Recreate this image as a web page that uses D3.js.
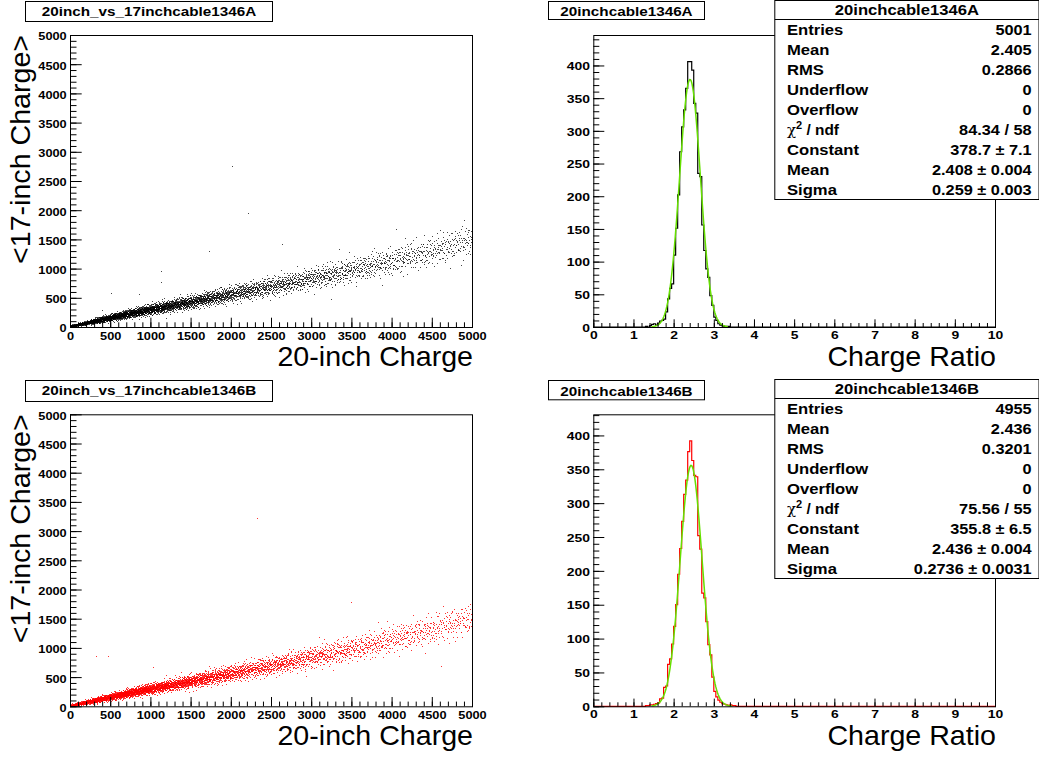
<!DOCTYPE html>
<html><head><meta charset="utf-8">
<script src="https://cdn.jsdelivr.net/npm/d3@7"></script>
<style>
body{margin:0;background:#fff}
svg{display:block}
text{font-family:"Liberation Sans",Arial,Helvetica,sans-serif}
</style>
</head><body>
<svg id="c" width="1039" height="757"></svg>
<script>
// ================= DATA =================
const scatterTitles = ["20inch_vs_17inchcable1346A", "20inch_vs_17inchcable1346B"];
const histTitles = ["20inchcable1346A", "20inchcable1346B"];
const scatterXTitle = "20-inch Charge";
const scatterYTitle = "<17-inch Charge>";
const histXTitle = "Charge Ratio";

const scatterXTicks = [0, 500, 1000, 1500, 2000, 2500, 3000, 3500, 4000, 4500, 5000];
const scatterYTicks = [0, 500, 1000, 1500, 2000, 2500, 3000, 3500, 4000, 4500, 5000];
const histXTicks = [0, 1, 2, 3, 4, 5, 6, 7, 8, 9, 10];
const histYTicks = [0, 50, 100, 150, 200, 250, 300, 350, 400];

// scatter band description per 250-wide slice of 20-inch charge
const bandX       = [125, 375, 625, 875, 1125, 1375, 1625, 1875, 2125, 2375, 2625, 2875, 3125, 3375, 3625, 3875, 4125, 4375, 4625, 4875];
const bandCenterA = [40, 115, 190, 260, 325, 390, 455, 520, 590, 655, 720, 790, 860, 930, 1005, 1085, 1165, 1250, 1340, 1440];
const bandSpreadA = [14, 24, 32, 40, 46, 52, 58, 64, 70, 76, 82, 88, 94, 100, 106, 112, 118, 124, 130, 136];
const bandCountA  = [350, 500, 560, 520, 450, 390, 330, 280, 240, 210, 185, 165, 150, 135, 120, 110, 100, 90, 85, 80];
const bandCenterB = [40, 115, 190, 260, 325, 390, 455, 520, 590, 655, 725, 795, 865, 940, 1015, 1095, 1180, 1265, 1355, 1455];
const bandSpreadB = [14, 24, 32, 40, 46, 52, 58, 64, 70, 76, 82, 88, 94, 100, 106, 112, 118, 124, 130, 136];
const bandCountB  = [340, 490, 555, 515, 445, 385, 330, 280, 240, 210, 185, 165, 150, 135, 120, 108, 98, 88, 82, 78];
const outliersA = [[2027, 2740], [2218, 1947], [1741, 1290], [1141, 947], [1141, 758], [2646, 1416], [3255, 474], [4142, 861], [519, 577], [870, 548], [402, 291], [4064, 1661]];
const outliersB = [[2338, 3219], [3504, 1775], [332, 849], [477, 856], [1036, 663], [4623, 685], [2923, 604], [1200, 520]];

// histograms: low bin edges and counts
const histLowEdges = [1.30, 1.35, 1.40, 1.45, 1.50, 1.55, 1.60, 1.65, 1.70, 1.75,
                      1.80, 1.85, 1.90, 1.95, 2.00, 2.05, 2.10, 2.15, 2.20, 2.25,
                      2.30, 2.35, 2.40, 2.45, 2.50, 2.55, 2.60, 2.65, 2.70, 2.75,
                      2.80, 2.85, 2.90, 2.95, 3.00, 3.05, 3.10, 3.15, 3.20, 3.25,
                      3.30, 3.35, 3.40, 3.45, 3.50];
const histBinWidth = 0.05;
const histCountsA = [1, 0, 2, 4, 5, 3, 6, 9, 10, 12,
                     23, 43, 59, 66, 110, 151, 202, 268, 306, 332,
                     365, 406, 406, 393, 342, 327, 235, 230, 156, 117,
                     89, 76, 48, 33, 15, 10, 5, 3, 2, 1,
                     1, 1, 0, 0, 0];
const histCountsB = [1, 1, 2, 2, 3, 4, 5, 11, 12, 28,
                     30, 62, 70, 92, 118, 150, 195, 233, 273, 313,
                     334, 376, 392, 363, 341, 339, 252, 232, 167, 160,
                     125, 91, 76, 43, 22, 14, 9, 6, 4, 3,
                     2, 1, 2, 1, 1];
// gaussian fit parameters: constant, mean, sigma ; and drawn range
const fitParamsA = [378.7, 2.408, 0.259];
const fitParamsB = [355.8, 2.436, 0.2736];
const fitRangeA = [1.45, 3.35];
const fitRangeB = [1.45, 3.45];

const statsLabels = ["Entries", "Mean", "RMS", "Underflow", "Overflow", "CHI", "Constant", "Mean", "Sigma"];
const statsValuesA = ["5001", "2.405", "0.2866", "0", "0", "84.34 / 58", "378.7 \u00b1 7.1", "2.408 \u00b1 0.004", "0.259 \u00b1 0.003"];
const statsValuesB = ["4955", "2.436", "0.3201", "0", "0", "75.56 / 55", "355.8 \u00b1 6.5", "2.436 \u00b1 0.004", "0.2736 \u00b1 0.0031"];

// ================= LAYOUT =================
const svg = d3.select("#c");
const FONT = "'Liberation Sans', Arial, Helvetica, sans-serif";
const rows = [{top: 35, bottom: 327}, {top: 414.3, bottom: 706.3}];
const SC = {left: 70, right: 472};
const HI = {left: 593.3, right: 995};
const scatterTitleBox = [{x: 25, y: 1, w: 247, h: 20, base: 16}, {x: 25, y: 380, w: 247, h: 21, base: 395}];
const histTitleBox = [{x: 548, y: 1, w: 156, h: 18, base: 16}, {x: 548, y: 380, w: 156, h: 19.3, base: 395.5}];
const statsBox = [0, 379];

function stretch(sel, f) {
  sel.each(function () {
    const L = this.getComputedTextLength();
    this.setAttribute("textLength", (L * f).toFixed(2));
    this.setAttribute("lengthAdjust", "spacingAndGlyphs");
  });
}

function halton(i, b) { let f = 1, r = 0; while (i > 0) { f /= b; r += f * (i % b); i = Math.floor(i / b); } return r; }

function styleAxis(g, size, fstretch, dy) {
  g.select(".domain").remove();
  g.selectAll("line").attr("stroke", "#000");
  const t = g.selectAll("text").attr("font-family", FONT).attr("font-weight", "bold")
    .attr("font-size", size).attr("fill", "#000");
  if (dy) t.attr("dy", dy);
  stretch(t, fstretch);
}

function titleBox(b, label) {
  svg.append("rect").attr("x", b.x + 0.5).attr("y", b.y + 0.5).attr("width", b.w).attr("height", b.h)
    .attr("fill", "#fff").attr("stroke", "#000").attr("stroke-width", 1);
  const t = svg.append("text").attr("x", b.x + b.w / 2 + 0.5).attr("y", b.base).attr("text-anchor", "middle")
    .attr("font-family", FONT).attr("font-weight", "bold").attr("font-size", 13.5).text(label);
  stretch(t, 1.13);
}

// ================= SCATTER PANELS =================
function drawScatter(r, idx, centers, spreads, counts, outliers, color, opacity) {
  const x = d3.scaleLinear().domain([0, 5000]).range([SC.left, SC.right]);
  const y = d3.scaleLinear().domain([0, 5000]).range([r.bottom, r.top]);
  const cScale = d3.scaleLinear().domain(bandX).range(centers);
  const sScale = d3.scaleLinear().domain(bandX).range(spreads);

  const pts = [];
  let n = 1 + idx * 7919;
  bandX.forEach((bx, j) => {
    for (let k = 0; k < counts[j]; k++, n++) {
      const u = halton(n, 2), v = halton(n, 3), w = halton(n, 5);
      const xv = bx - 125 + u * 250;
      const z = Math.sqrt(-2 * Math.log(Math.max(v, 1e-6))) * Math.cos(2 * Math.PI * w);
      const yv = cScale(xv) + sScale(xv) * z;
      if (yv >= 0) pts.push([xv, yv]);
    }
  });
  outliers.forEach(p => pts.push(p));

  const g = svg.append("g");
  g.selectAll("rect").data(pts).join("rect")
    .attr("x", d => Math.floor(x(d[0])))
    .attr("y", d => Math.floor(y(d[1])))
    .attr("width", 1).attr("height", 1)
    .attr("fill", color).attr("fill-opacity", opacity).attr("shape-rendering", "crispEdges");

  // frame
  svg.append("rect").attr("x", SC.left + 0.5).attr("y", r.top + 0.5)
    .attr("width", SC.right - SC.left).attr("height", r.bottom - r.top)
    .attr("fill", "none").attr("stroke", "#000");

  // axes
  const minorX = d3.range(0, 5001, 100);
  const gxm = svg.append("g").attr("transform", `translate(0,${r.bottom})`)
    .call(d3.axisBottom(x).tickValues(minorX).tickSize(-4.7).tickFormat(""));
  styleAxis(gxm, 11, 1, null);
  const gx = svg.append("g").attr("transform", `translate(0,${r.bottom})`)
    .call(d3.axisBottom(x).tickValues(scatterXTicks).tickSize(-9.3).tickPadding(5).tickFormat(d3.format("d")));
  styleAxis(gx, 11, 1.16, null);

  const gym = svg.append("g").attr("transform", `translate(${SC.left},0)`)
    .call(d3.axisLeft(y).tickValues(minorX).tickSize(-6.5).tickFormat(""));
  styleAxis(gym, 11, 1, null);
  const gy = svg.append("g").attr("transform", `translate(${SC.left},0)`)
    .call(d3.axisLeft(y).tickValues(scatterYTicks).tickSize(-11.7).tickPadding(3.3).tickFormat(d3.format("d")));
  styleAxis(gy, 11, 1.16, "0.45em");

  // titles
  const xt = svg.append("text").attr("x", SC.right + 1).attr("y", r.bottom + 38.5)
    .attr("text-anchor", "end").attr("font-family", FONT).attr("font-size", 27.5).text(scatterXTitle);
  stretch(xt, 1.04);
  const yt = svg.append("text").attr("transform", `translate(29.5,${r.top}) rotate(-90)`)
    .attr("text-anchor", "end").attr("font-family", FONT).attr("font-size", 27.5).text(scatterYTitle);
  stretch(yt, 1.04);

  titleBox(scatterTitleBox[idx], scatterTitles[idx]);
}

// ================= HISTOGRAM PANELS =================
function drawHist(r, idx, counts, fit, fitRange, color, statsVals) {
  const x = d3.scaleLinear().domain([0, 10]).range([HI.left, HI.right]);
  const ymax = d3.max(counts) * 1.1;
  const y = d3.scaleLinear().domain([0, ymax]).range([r.bottom, r.top]);

  // histogram outline
  const steps = [[0, 0]];
  counts.forEach((c, i) => steps.push([histLowEdges[i], c]));
  steps.push([histLowEdges[counts.length - 1] + histBinWidth, 0]);
  steps.push([10, 0]);
  svg.append("path").attr("d", d3.line().x(d => x(d[0])).y(d => y(d[1])).curve(d3.curveStepAfter)(steps))
    .attr("fill", "none").attr("stroke", color).attr("stroke-width", 1.2);

  // fit curve
  const fx = d3.range(101).map(i => fitRange[0] + i * (fitRange[1] - fitRange[0]) / 100);
  const fpts = fx.map(v => [v, fit[0] * Math.exp(-0.5 * Math.pow((v - fit[1]) / fit[2], 2))]);
  svg.append("path").attr("d", d3.line().x(d => x(d[0])).y(d => y(d[1]))(fpts))
    .attr("fill", "none").attr("stroke", "#66e000").attr("stroke-width", 1.5);

  // frame
  svg.append("rect").attr("x", HI.left + 0.5).attr("y", r.top + 0.5)
    .attr("width", HI.right - HI.left).attr("height", r.bottom - r.top)
    .attr("fill", "none").attr("stroke", "#000");

  // axes
  const gxm = svg.append("g").attr("transform", `translate(0,${r.bottom})`)
    .call(d3.axisBottom(x).tickValues(d3.range(0, 10.01, 0.2)).tickSize(-4).tickFormat(""));
  styleAxis(gxm, 11, 1, null);
  const gx = svg.append("g").attr("transform", `translate(0,${r.bottom})`)
    .call(d3.axisBottom(x).tickValues(histXTicks).tickSize(-7.7).tickPadding(3.8).tickFormat(d3.format("d")));
  styleAxis(gx, 11.6, 1.2, null);

  const gym = svg.append("g").attr("transform", `translate(${HI.left},0)`)
    .call(d3.axisLeft(y).tickValues(d3.range(0, ymax, 10)).tickSize(-6).tickFormat(""));
  styleAxis(gym, 11, 1, null);
  const gy = svg.append("g").attr("transform", `translate(${HI.left},0)`)
    .call(d3.axisLeft(y).tickValues(histYTicks).tickSize(-11).tickPadding(3.3).tickFormat(d3.format("d")));
  styleAxis(gy, 11.6, 1.2, "0.36em");

  const xt = svg.append("text").attr("x", HI.right + 1).attr("y", r.bottom + 38.5)
    .attr("text-anchor", "end").attr("font-family", FONT).attr("font-size", 27.5).text(histXTitle);
  stretch(xt, 1.04);

  titleBox(histTitleBox[idx], histTitles[idx]);

  // stats box
  const top = statsBox[idx];
  const bx = 774.3, bw = 264.2;
  svg.append("rect").attr("x", bx + 0.5).attr("y", top + 0.5).attr("width", bw).attr("height", 199)
    .attr("fill", "#fff").attr("stroke", "#000");
  svg.append("line").attr("x1", bx + 0.5).attr("x2", bx + bw + 0.5).attr("y1", top + 19.5).attr("y2", top + 19.5)
    .attr("stroke", "#000");
  const st = svg.append("text").attr("x", bx + bw / 2 + 0.5).attr("y", top + 15).attr("text-anchor", "middle")
    .attr("font-family", FONT).attr("font-weight", "bold").attr("font-size", 15.4).text(histTitles[idx]);
  stretch(st, 1.08);
  statsLabels.forEach((lab, i) => {
    const yy = top + 35 + 20 * i;
    if (lab === "CHI") {
      const t = svg.append("text").attr("x", 787).attr("y", yy).attr("font-family", FONT)
        .attr("font-weight", "bold").attr("font-size", 15.4);
      t.append("tspan").attr("font-weight", "normal").attr("font-family", "'DejaVu Serif', serif").attr("font-size", 15).text("\u03c7");
      t.append("tspan").attr("dy", -6).attr("font-size", 11).text("2");
      t.append("tspan").attr("dy", 6).text(" / ndf");
    } else {
      const t = svg.append("text").attr("x", 787).attr("y", yy).attr("font-family", FONT)
        .attr("font-weight", "bold").attr("font-size", 15.4).text(lab);
      stretch(t, 1.08);
    }
    const v = svg.append("text").attr("x", 1031.7).attr("y", yy).attr("text-anchor", "end")
      .attr("font-family", FONT).attr("font-weight", "bold").attr("font-size", 15.4).text(statsVals[i]);
    stretch(v, 1.06);
  });
}

drawScatter(rows[0], 0, bandCenterA, bandSpreadA, bandCountA, outliersA, "#000", 0.72);
drawScatter(rows[1], 1, bandCenterB, bandSpreadB, bandCountB, outliersB, "#ff0000", 0.8);
drawHist(rows[0], 0, histCountsA, fitParamsA, fitRangeA, "#000", statsValuesA);
drawHist(rows[1], 1, histCountsB, fitParamsB, fitRangeB, "#ff0000", statsValuesB);
</script>
</body></html>
